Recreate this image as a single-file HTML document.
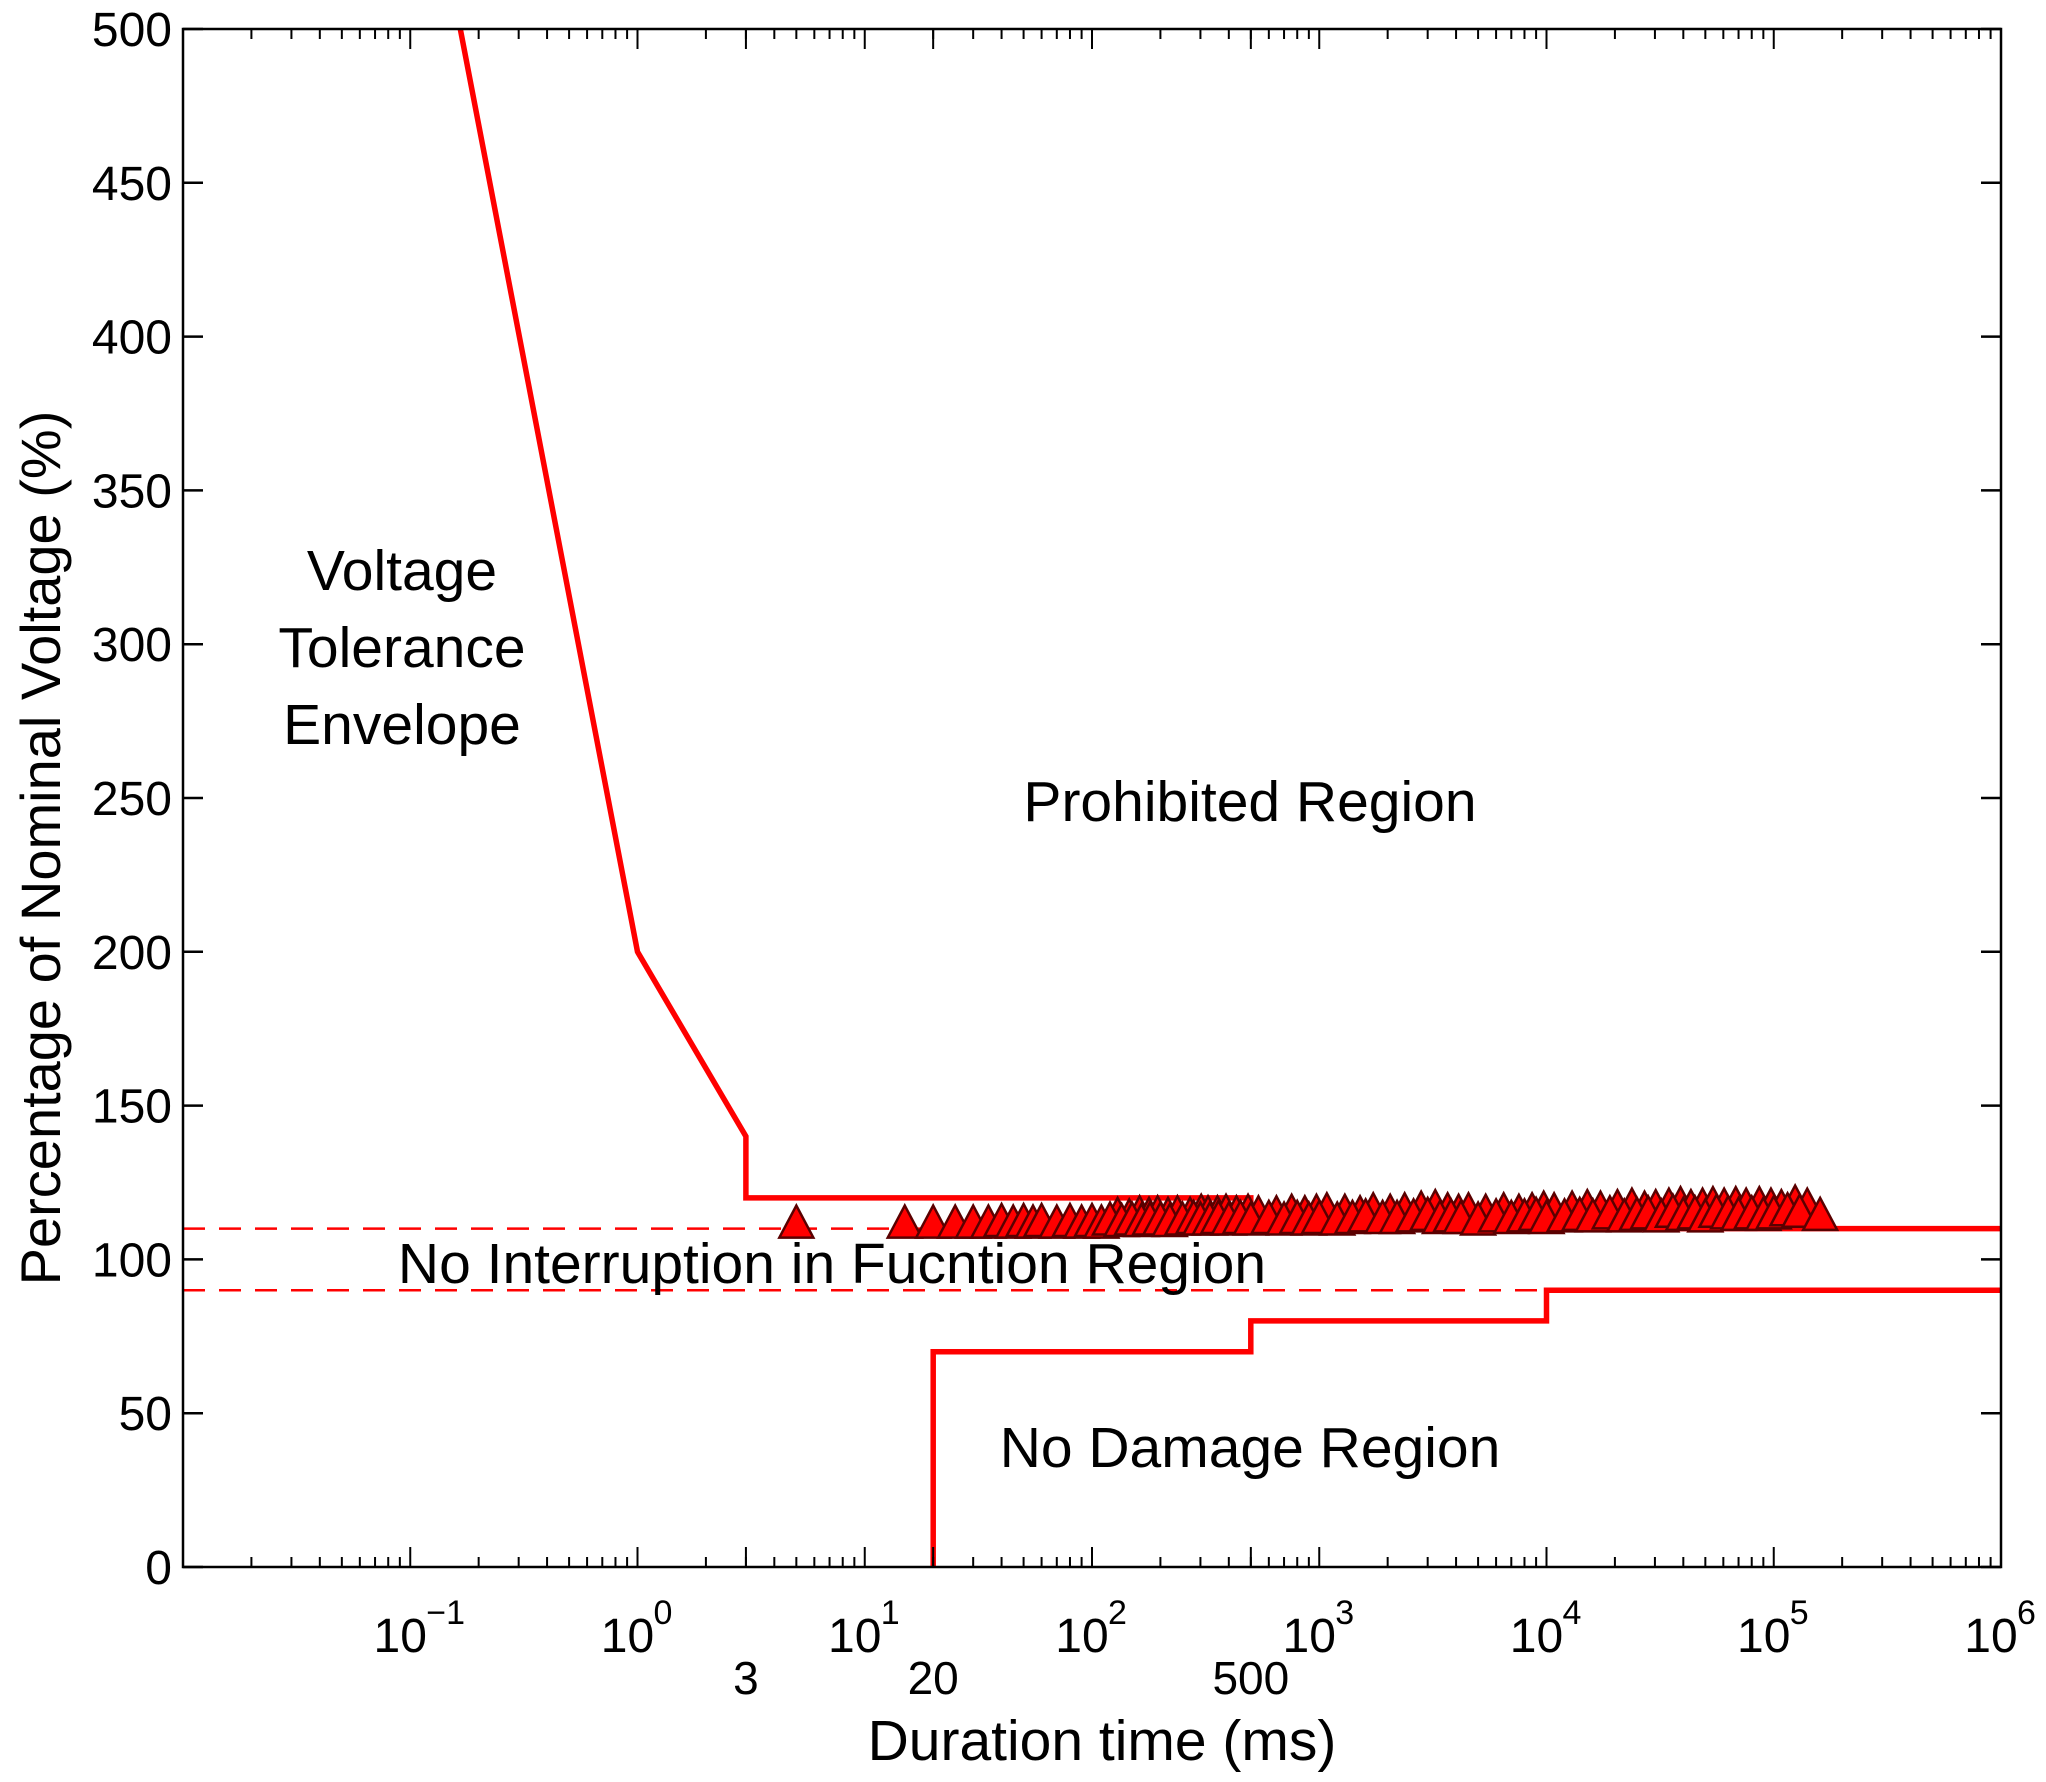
<!DOCTYPE html>
<html><head><meta charset="utf-8"><style>
html,body{margin:0;padding:0;background:#fff;}
svg{display:block;font-family:"Liberation Sans",sans-serif;}
</style></head><body>
<svg id="chart" width="2046" height="1782" viewBox="0 0 2046 1782">
<rect x="0" y="0" width="2046" height="1782" fill="#fff"/>
<g id="marks"></g>
<g id="axes"></g>
<text x="402" y="590" font-size="57" text-anchor="middle">Voltage</text>
<text x="402" y="667" font-size="57" text-anchor="middle">Tolerance</text>
<text x="402" y="744" font-size="57" text-anchor="middle">Envelope</text>
<text x="1250" y="821" font-size="57" text-anchor="middle">Prohibited Region</text>
<text x="832" y="1283" font-size="57" text-anchor="middle">No Interruption in Fucntion Region</text>
<text x="1250" y="1467" font-size="57" text-anchor="middle">No Damage Region</text>
<text x="1102" y="1760" font-size="57" text-anchor="middle">Duration time (ms)</text>
<text transform="translate(60,848) rotate(-90)" font-size="56" text-anchor="middle">Percentage of Nominal Voltage (%)</text>
</svg>
<script>
const yTicks=[0,50,100,150,200,250,300,350,400,450,500];
const xDecades=[-1,0,1,2,3,4,5,6];
const xExtraTicks=[3,20,500];
const upperCurveX=[0.166,1,3,3,500,500,1000000];
const upperCurveY=[500,200,140,120,120,110,110];
const lowerCurveX=[20,20,500,500,10000,10000,1000000];
const lowerCurveY=[0,70,70,80,80,90,90];
const dashUpperX=[0.01,500];const dashUpperY=[110,110];
const dashLowerX=[0.01,10000];const dashLowerY=[90,90];
const eventDur=[5,15,20,25,30,35,40,45,50,55,60,70,80,90,100,110,120,135,150,165,180,200,220,250,280,300,330,360,400,450,500,600,700,800,900,1000,1200,1400,1600,1900,2200,2600,3000,3400,3800,4200,5000,6000,7000,8000,9000,10000,12000,14000,16000,19000,22000,25000,28000,32000,36000,40000,45000,50000,56000,63000,70000,80000,90000,100000,115000,130000,160000];
const eventPct=[111,111,111,111,111,111,111.5,111,111.5,111,111.5,111,111.5,111,111.5,111,112,111.5,112,111.5,112,112,111.5,112,112.5,112,112,112.5,112,112.5,112,112.5,112,112.5,112,112.5,112,112.5,113,112.5,112.5,113,113.5,112.5,113,112.5,112,113,112.5,113,113.5,112.5,113,113.5,113,114,113,113.5,114,113,114.5,113.5,114,113,114.5,114,113.5,114,113.5,114,115,114.5,113.5];
const eventPct2=[null,null,null,null,null,null,null,null,null,null,null,null,null,null,null,null,113.5,113,114,113.5,114,113.5,114,113.5,114.5,114,114,114.5,114,114.5,114,114,114.5,114,114.5,115,114.5,114,115,114.5,115,115.5,116,115,114.5,115,114.5,115,114.5,115,115.5,115,115.5,116,115.5,116,116.5,115.5,116,116.5,117,116,116.5,117,116.5,117,116.5,117,116.5,116,117.5,116.5,null];

const L=183,R=2001,T=29,B=1567;
const xMinLog=-2,xMaxLog=6;
function xs(v){return L+(Math.log10(v)-xMinLog)/(xMaxLog-xMinLog)*(R-L);}
function ys(v){return B-v/500*(B-T);}
const NS="http://www.w3.org/2000/svg";
const marks=document.getElementById('marks');
const axes=document.getElementById('axes');
function mk(tag,attrs,parent){const e=document.createElementNS(NS,tag);for(const k in attrs)e.setAttribute(k,attrs[k]);parent.appendChild(e);return e;}

function poly(xa,ya,attrs,name){
  const pts=xa.map((x,i)=>xs(x).toFixed(1)+','+ys(ya[i]).toFixed(1)).join(' ');
  const p=mk('polyline',Object.assign({points:pts,fill:'none'},attrs),marks);
  
  
}
const clip=mk('clipPath',{id:'plotclip'},mk('defs',{},marks));
mk('rect',{x:L,y:T,width:R-L,height:B-T},clip);
marks.setAttribute('clip-path','url(#plotclip)');
poly(dashUpperX,dashUpperY,{stroke:'#ff0000','stroke-width':2.5,'stroke-dasharray':'22,14'},'dashed-110-line');
poly(dashLowerX,dashLowerY,{stroke:'#ff0000','stroke-width':2.5,'stroke-dasharray':'22,14'},'dashed-90-line');
poly(upperCurveX,upperCurveY,{stroke:'#ff0000','stroke-width':5.5,'stroke-linejoin':'miter'},'upper-tolerance-curve');
poly(lowerCurveX,lowerCurveY,{stroke:'#ff0000','stroke-width':5.5,'stroke-linejoin':'miter'},'lower-tolerance-curve');

function tri(d,v){
  const cx=xs(d),cy=ys(v);
  const t=mk('polygon',{points:`${cx-17},${cy+12} ${cx+17},${cy+12} ${cx},${cy-20}`,fill:'#ff0000',stroke:'#5a0000','stroke-width':2.5},marks);
  
  
}
eventDur.forEach((d,i)=>{ if(eventPct2[i]!=null) tri(d*1.08,eventPct2[i]); });
eventDur.forEach((d,i)=>{ tri(d,eventPct[i]); });

const box=mk('rect',{x:L,y:T,width:R-L,height:B-T,fill:'none',stroke:'#000','stroke-width':2.5},axes);



yTicks.forEach(v=>{
  const y=ys(v);
  mk('line',{x1:L,x2:L+20,y1:y,y2:y,stroke:'#000','stroke-width':2.5},axes);
  mk('line',{x1:R-20,x2:R,y1:y,y2:y,stroke:'#000','stroke-width':2.5},axes);
  const t=mk('text',{x:172,y:y+17,'font-size':48,'text-anchor':'end'},axes);
  t.textContent=v;
  
  
});
for(let d=xMinLog;d<xMaxLog;d++){
  for(let m=1;m<10;m++){
    const x=xs(m*Math.pow(10,d));
    const len=m===1?20:10;
    mk('line',{x1:x,x2:x,y1:B,y2:B-len,stroke:'#000','stroke-width':2},axes);
    mk('line',{x1:x,x2:x,y1:T,y2:T+len,stroke:'#000','stroke-width':2},axes);
  }
}
xExtraTicks.forEach(v=>{
  const x=xs(v);
  mk('line',{x1:x,x2:x,y1:B,y2:B-20,stroke:'#000','stroke-width':2},axes);
  mk('line',{x1:x,x2:x,y1:T,y2:T+20,stroke:'#000','stroke-width':2},axes);
  const t=mk('text',{x:x,y:1694,'font-size':46,'text-anchor':'middle'},axes);
  t.textContent=v;
  
  
});
xDecades.forEach(d=>{
  const x=xs(Math.pow(10,d));
  const t=mk('text',{x:x-10,y:1652,'font-size':48,'text-anchor':'middle'},axes);
  t.textContent='10';
  
  
  const s=mk('text',{x:x+16,y:1624,'font-size':34,'text-anchor':'start'},axes);
  s.textContent=String(d).replace('-','\u2212');
  
  
});
</script>
</body></html>
